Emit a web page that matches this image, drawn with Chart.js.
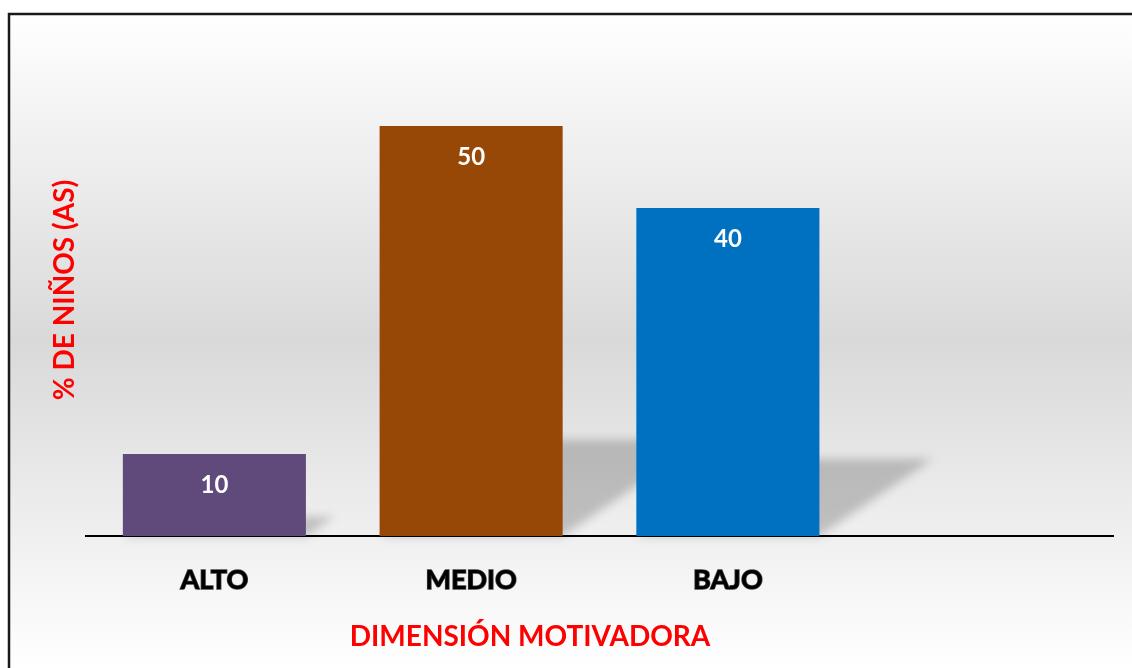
<!DOCTYPE html>
<html>
<head>
<meta charset="utf-8">
<script src="https://cdn.jsdelivr.net/npm/chart.js@4"></script>
<style>
  body { margin: 0; background: #fff; }
  canvas { display: block; }
</style>
</head>
<body>
<canvas id="chart" width="1132" height="668"></canvas>
<script>
// datos del gráfico
const categorias = ['ALTO', 'MEDIO', 'BAJO', ''];
const valores = [10, 50, 40, null];
const colores = ['#604a7b', '#974706', '#0070c0', '#ffffff'];
const tituloX = 'DIMENSIÓN MOTIVADORA';
const tituloY = '% DE NIÑOS (AS)';

const FUENTE = 'Lato, "Open Sans", sans-serif';

// fondo degradado y marco
const fondo = {
    id: 'fondo',
    beforeDraw(chart) {
        const c = chart.ctx;
        const w = chart.width, h = chart.height;
        c.save();
        const g = c.createLinearGradient(0, 14, 0, h);
        g.addColorStop(0, '#ffffff');
        g.addColorStop(0.5, '#d9d9d9');
        g.addColorStop(1, '#ffffff');
        c.fillStyle = g;
        c.fillRect(9, 14, w - 9, h - 14);
        c.strokeStyle = '#1a1a1a';
        c.lineWidth = 2.5;
        c.beginPath();
        c.moveTo(9, h);
        c.lineTo(9, 14);
        c.lineTo(w, 14);
        c.stroke();
        c.restore();
    }
};

// sombra en perspectiva detrás de cada barra
const sombras = {
    id: 'sombras',
    beforeDatasetsDraw(chart) {
        const c = chart.ctx;
        const meta = chart.getDatasetMeta(0);
        c.save();
        c.filter = 'blur(5px)';
        c.fillStyle = 'rgba(0,0,0,0.2)';
        meta.data.forEach(bar => {
            if (bar.skip || isNaN(bar.y)) return;
            const alto = bar.base - bar.y;
            const dx = alto * 0.345, dy = alto * 0.235;
            const izq = bar.x - bar.width / 2, der = bar.x + bar.width / 2;
            c.beginPath();
            c.moveTo(izq, bar.base);
            c.lineTo(der, bar.base);
            c.lineTo(der + dx, bar.base - dy);
            c.lineTo(izq + dx, bar.base - dy);
            c.closePath();
            c.fill();
        });
        c.restore();
    }
};

// etiquetas de valor dentro de la barra y título del eje X
const etiquetas = {
    id: 'etiquetas',
    afterDatasetsDraw(chart) {
        const c = chart.ctx;
        const meta = chart.getDatasetMeta(0);
        c.save();
        c.fillStyle = '#ffffff';
        c.font = 'bold 24px ' + FUENTE;
        c.textAlign = 'center';
        c.textBaseline = 'middle';
        meta.data.forEach((bar, i) => {
            if (valores[i] == null) return;
            c.fillText(valores[i], bar.x, bar.y + 31);
        });
        c.fillStyle = '#ff0000';
        c.font = 'bold 28px ' + FUENTE;
        c.fillText(tituloX, 530, 637);
        c.restore();
    }
};

new Chart(document.getElementById('chart'), {
    type: 'bar',
    data: {
        labels: categorias,
        datasets: [{
            data: valores,
            backgroundColor: colores,
            categoryPercentage: 1,
            barPercentage: 0.713
        }]
    },
    options: {
        responsive: false,
        animation: false,
        layout: { padding: { top: 44, right: 19, left: 0, bottom: 0 } },
        plugins: {
            legend: { display: false },
            tooltip: { enabled: false }
        },
        scales: {
            x: {
                grid: { display: false, drawTicks: false },
                border: { display: true, color: '#000000', width: 2 },
                ticks: {
                    color: '#000000',
                    font: { family: FUENTE, size: 27, weight: 'bold' },
                    padding: 28,
                    textStrokeColor: 'rgba(0,0,0,0.75)',
                    textStrokeWidth: 1.5
                },
                afterFit(scale) { scale.height = 132; }
            },
            y: {
                min: 0,
                max: 60,
                grid: { display: false, drawTicks: false },
                border: { display: false },
                ticks: { display: false },
                title: {
                    display: true,
                    text: tituloY,
                    color: '#ff0000',
                    font: { family: FUENTE, size: 28, weight: 'bold' },
                    padding: { top: 48, bottom: 0 }
                },
                afterFit(scale) { scale.width = 86; }
            }
        }
    },
    plugins: [fondo, sombras, etiquetas]
});
</script>
</body>
</html>
